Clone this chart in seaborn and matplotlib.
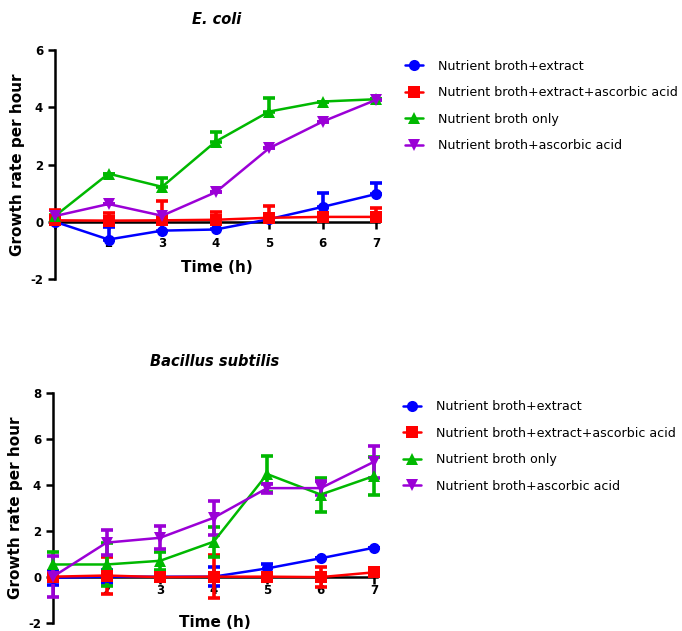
import matplotlib
matplotlib.use("Agg")
import matplotlib.pyplot as plt
import seaborn as sns
import pandas as pd
import numpy as np

# 数据：时间 (h)
hours = [1, 2, 3, 4, 5, 6, 7]
groups = ["Nutrient broth+extract", "Nutrient broth+extract+ascorbic acid",
          "Nutrient broth only", "Nutrient broth+ascorbic acid"]

# E. coli  (误差棒只向上)
ecoli_extract = [0.0, -0.62, -0.31, -0.27, 0.09, 0.52, 0.97]
ecoli_extract_err = [0.0, 0.45, 0.3, 0.25, 0.0, 0.47, 0.37]
ecoli_extract_aa = [0.05, 0.04, 0.05, 0.07, 0.14, 0.17, 0.17]
ecoli_extract_aa_err = [0.35, 0.25, 0.67, 0.28, 0.41, 0.0, 0.32]
ecoli_broth = [0.2, 1.68, 1.22, 2.8, 3.85, 4.2, 4.28]
ecoli_broth_err = [0.05, 0.0, 0.3, 0.35, 0.46, 0.0, 0.02]
ecoli_broth_aa = [0.2, 0.62, 0.21, 1.03, 2.57, 3.5, 4.26]
ecoli_broth_aa_err = [0.0, 0.0, 0.0, 0.0, 0.0, 0.0, 0.0]

# Bacillus subtilis  (误差棒双向)
bs_extract = [-0.05, 0.0, 0.0, 0.0, 0.36, 0.8, 1.26]
bs_extract_err = [0.3, 0.27, 0.05, 0.42, 0.2, 0.0, 0.0]
bs_extract_aa = [0.0, 0.05, -0.02, 0.0, 0.0, -0.02, 0.19]
bs_extract_aa_err = [0.1, 0.82, 0.1, 0.93, 0.05, 0.43, 0.1]
bs_broth = [0.53, 0.53, 0.69, 1.52, 4.46, 3.57, 4.38]
bs_broth_err = [0.55, 0.93, 0.4, 0.65, 0.77, 0.74, 0.84]
bs_broth_aa = [0.0, 1.48, 1.69, 2.56, 3.85, 3.85, 5.0]
bs_broth_aa_err = [0.88, 0.55, 0.5, 0.75, 0.2, 0.3, 0.7]

colors = ["#0000ff", "#ff0000", "#00b800", "#9b00d6"]
markers = ["o", "s", "^", "v"]

sns.set_style("ticks")
plt.rcParams['font.family'] = ['DejaVu Sans']
for k in ["text.color", "axes.labelcolor", "xtick.color", "ytick.color"]:
    plt.rcParams[k] = "black"


def make_df(series):
    rows = []
    for g, vals in zip(groups, series):
        for h, v in zip(hours, vals):
            rows.append({"Time": h, "Rate": v, "Group": g})
    return pd.DataFrame(rows)


def draw_panel(ax, series, errs, title, ylim, yticks, both, leg_y, xpad, xlabpad):
    df = make_df(series)
    sns.lineplot(data=df, x="Time", y="Rate", hue="Group", style="Group",
                 palette=colors, markers=markers, dashes=False, markersize=8,
                 markeredgewidth=0, linewidth=1.8, ax=ax, legend=True,
                 zorder=3, clip_on=False)
    for vals, err, c in zip(series, errs, colors):
        err = np.array(err)
        lower = err if both else np.zeros_like(err)
        eb = ax.errorbar(hours, vals, yerr=[lower, err], fmt="none", ecolor=c,
                         elinewidth=2.6, capsize=4, capthick=2.6, zorder=2.8)
        for art in eb.lines[1] + eb.lines[2]:
            art.set_clip_on(False)
    ax.set_xlim(1, 7.05)
    ax.set_ylim(*ylim)
    ax.set_yticks(yticks)
    ax.set_yticklabels([str(t) for t in yticks])
    ax.set_xticks(hours)
    ax.set_xticklabels([""] + [str(h) for h in hours[1:]])
    sns.despine(ax=ax)
    ax.spines["bottom"].set_position(("data", 0))
    for s in ["left", "bottom"]:
        ax.spines[s].set_linewidth(1.8)
        ax.spines[s].set_color("black")
        ax.spines[s].set_zorder(1)
    ax.spines["left"].set_bounds(ylim[0], ylim[1])
    ax.tick_params(axis="both", width=1.8, length=5, labelsize=8.5, color="black")
    ax.tick_params(axis="x", pad=xpad)
    for lab in ax.get_xticklabels() + ax.get_yticklabels():
        lab.set_fontweight("bold")
    ax.set_xlabel("Time (h)", fontsize=11, fontweight="bold", labelpad=xlabpad)
    ax.set_ylabel("Growth rate per hour", fontsize=11, fontweight="bold", labelpad=4)
    ax.set_title(title, fontsize=10.5, fontweight="bold", style="italic", pad=19)
    handles, labels = ax.get_legend_handles_labels()
    ax.legend(handles, labels, loc="upper left", bbox_to_anchor=(1.065, leg_y),
              frameon=False, fontsize=9.1, handlelength=1.4, handletextpad=1.2,
              labelspacing=1.07, borderaxespad=0)


fig = plt.figure(figsize=(6.82, 6.31), dpi=100)
ax1 = fig.add_axes([0.0806, 0.5578, 0.475, 0.363])
ax2 = fig.add_axes([0.0777, 0.0132, 0.475, 0.3645])

draw_panel(ax1, [ecoli_extract, ecoli_extract_aa, ecoli_broth, ecoli_broth_aa],
           [ecoli_extract_err, ecoli_extract_aa_err, ecoli_broth_err, ecoli_broth_aa_err],
           "E. coli", (-2, 6), [-2, 0, 2, 4, 6], both=False, leg_y=0.98,
           xpad=6, xlabpad=7)
draw_panel(ax2, [bs_extract, bs_extract_aa, bs_broth, bs_broth_aa],
           [bs_extract_err, bs_extract_aa_err, bs_broth_err, bs_broth_aa_err],
           "Bacillus subtilis", (-2, 8), [-2, 0, 2, 4, 6, 8], both=True, leg_y=0.99,
           xpad=0, xlabpad=13)

fig.savefig("out.png", dpi=100)
